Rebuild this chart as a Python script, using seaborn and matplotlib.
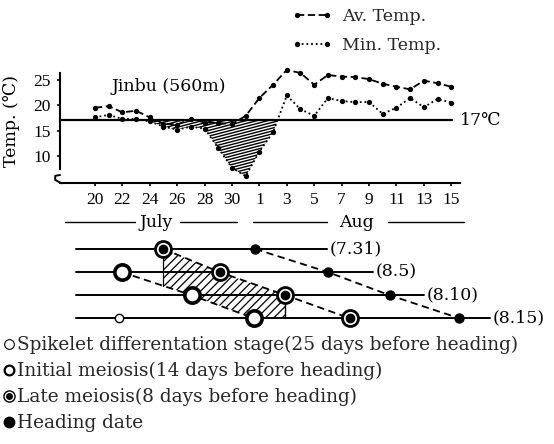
import numpy as np
import pandas as pd
import matplotlib
matplotlib.use("Agg")
import matplotlib.pyplot as plt
import matplotlib.transforms as mtransforms
from matplotlib.lines import Line2D
from matplotlib.collections import LineCollection
import seaborn as sns

# ---------------- data ----------------
# day index 0 = July 20 ... 26 = Aug 15
days = list(range(27))
tick_days = list(range(0, 27, 2))
tick_labels = ["20", "22", "24", "26", "28", "30", "1", "3", "5", "7", "9", "11", "13", "15"]
av_temp = [19.5, 19.8, 18.6, 18.9, 17.6, 16.4, 16.2, 17.3, 16.6, 16.5, 16.3, 17.9,
           21.4, 24.0, 26.9, 26.3, 24.0, 25.9, 25.6, 25.5, 25.1, 24.2, 23.6, 23.1,
           24.8, 24.3, 23.6]
min_temp = [17.6, 18.1, 17.3, 17.3, 16.8, 15.8, 15.2, 15.8, 15.4, 11.6, 7.7, 6.1,
            10.9, 14.7, 21.9, 19.2, 17.9, 21.4, 20.8, 20.6, 20.6, 18.3, 19.5, 21.4,
            19.6, 21.2, 20.5]
threshold = 17
y_ticks = [10, 15, 20, 25]
months = ["July", "Aug"]
month_center = [4.5, 19.1]
month_rules = [[(-2.2, 2.9), (6.2, 10.4)], [(11.5, 16.9), (21.4, 26.9)]]

# development stages (rows = planting lines)
rows = [1, 2, 3, 4]
heading_labels = ["(7.31)", "(8.5)", "(8.10)", "(8.15)"]
heading_day = [11.7, 17.0, 21.5, 26.6]
late_meiosis_day = [5.0, 9.1, 13.9, 18.6]
initial_rows = [2, 3, 4]
initial_meiosis_day = [1.95, 7.05, 11.6]
spikelet_rows = [4]
spikelet_day = [1.75]
row_start = -1.35
row_end = [16.9, 20.3, 24.0, 28.8]

legend_labels = ["Spikelet differentation stage(25 days before heading)",
                 "Initial meiosis(14 days before heading)",
                 "Late meiosis(8 days before heading)",
                 "Heading date"]

# ---------------- style ----------------
sns.set_theme(style="white")
plt.rcParams["font.family"] = ["DejaVu Serif", "Liberation Serif", "Noto Sans CJK JP"]
plt.rcParams["axes.unicode_minus"] = False
plt.rcParams["hatch.linewidth"] = 0.9

TICKFONT = ["Liberation Serif", "DejaVu Serif"]

W, H = 554, 444
fig = plt.figure(figsize=(W / 100, H / 100), dpi=100)
fig.patch.set_facecolor("white")


def px_axes(l, t, r, b):
    return fig.add_axes([l / W, 1 - b / H, (r - l) / W, (b - t) / H])


XLIM = (-2.55, 26.64)

# ---------------- top temperature panel ----------------
ax = px_axes(60, 73, 460, 183.3)
ax.set_facecolor("none")
df = pd.DataFrame({"day": days, "av": av_temp, "min": min_temp})

dash_av = (0, (4, 2))
dot_min = (0, (1, 1.6))
sns.lineplot(data=df, x="day", y="av", ax=ax, color="black", lw=1.3,
             linestyle=dash_av, marker="o", markersize=3.8, markeredgewidth=0,
             clip_on=False, legend=False)
sns.lineplot(data=df, x="day", y="min", ax=ax, color="black", lw=1.3,
             linestyle=dot_min, marker="o", markersize=3.8, markeredgewidth=0,
             clip_on=False, legend=False)

ax.axhline(threshold, xmin=0, xmax=0.98, color="black", lw=1.6)

mn = np.array(min_temp)
poly = ax.fill_between(df["day"], mn, threshold, where=mn < threshold,
                       interpolate=True, facecolor="none", lw=0)
segs = [[(0, c), (1, c + 0.95)] for c in np.arange(-1.2, 1.0, 0.026)]
lc = LineCollection(segs, colors="black", linewidths=1.0, transform=ax.transAxes)
ax.add_collection(lc)
paths = poly.get_paths()
if paths:
    lc.set_clip_path(paths[0], poly.get_transform())

ax.set_xlim(*XLIM)
ax.set_ylim(4.69, 26.3)
ax.set_xticks(tick_days)
ax.set_xticklabels(tick_labels, fontfamily=TICKFONT)
ax.set_yticks(y_ticks)
ax.set_yticklabels([str(v) for v in y_ticks], fontfamily=TICKFONT)
ax.tick_params(axis="x", direction="out", length=2.5, width=1.2, pad=4, labelsize=12.5,
               colors="black", bottom=True)
ax.tick_params(axis="y", direction="out", length=2.5, width=1.2, pad=4, labelsize=12.5,
               colors="black", left=True)
for s in ["top", "right"]:
    ax.spines[s].set_visible(False)
for s in ["left", "bottom"]:
    ax.spines[s].set_color("black")
    ax.spines[s].set_linewidth(1.5)
ax.spines["left"].set_bounds(7.4, 26.3)
ax.plot([0, -0.012, -0.012, 0.004], [0.075, 0.068, 0.03, 0.0],
        transform=ax.transAxes, color="black", lw=1.4, clip_on=False)
ax.set_xlabel("")
ax.set_ylabel("Temp. (℃)", fontsize=12.5, color="black")
ax.yaxis.set_label_coords(-0.1, 0.565)

ax.text(5.4, 23.6, "Jinbu (560m)", fontsize=12.5, ha="center", va="center", color="black")
ax.text(26.6, threshold, "17℃", fontsize=12.5, ha="left", va="center", color="black")

# month row under the axis
bt = mtransforms.blended_transform_factory(ax.transData, fig.transFigure)
month_y = 1 - 222 / H
for name, cx, rules in zip(months, month_center, month_rules):
    ax.text(cx, month_y, name, transform=bt, fontsize=12.5, ha="center", va="center",
            color="black")
    for a, b in rules:
        ax.plot([a, b], [month_y, month_y], transform=bt, color="black", lw=1.0,
                clip_on=False)

# legend for the temperature lines
h_av = Line2D([], [], color="black", lw=1.3, linestyle=dash_av, marker="o",
              markersize=3.8, markeredgewidth=0)
h_min = Line2D([], [], color="black", lw=1.3, linestyle=dot_min, marker="o",
               markersize=3.8, markeredgewidth=0)
fig.legend([h_av, h_min], ["Av. Temp.", "Min. Temp."], loc="upper left",
           bbox_to_anchor=(292 / W, 1 - 8 / H), frameon=False, numpoints=2,
           fontsize=12.5, handlelength=2.3, handletextpad=0.6, labelspacing=0.7,
           borderpad=0, borderaxespad=0)

# ---------------- bottom development panel ----------------
ax2 = px_axes(60, 237.45, 460, 329.85)
ax2.set_xlim(*XLIM)
ax2.set_ylim(4.5, 0.5)
ax2.axis("off")

for r, end, lab in zip(rows, row_end, heading_labels):
    ax2.plot([row_start, end], [r, r], color="black", lw=1.4, clip_on=False, zorder=2)
    ax2.annotate(lab, (end, r), xytext=(2, 0), textcoords="offset points",
                 ha="left", va="center", fontsize=12.5, color="black",
                 annotation_clip=False)

# hatched meiosis / cold window
xs = np.linspace(late_meiosis_day[0], late_meiosis_day[2], 200)
upper = np.interp(xs, late_meiosis_day, rows)
lower = np.minimum(np.interp(xs, initial_meiosis_day, initial_rows), 4)
ax2.fill_between(xs, upper, lower, facecolor="none", edgecolor="black",
                 hatch="////", lw=0, zorder=1)
ax2.plot([xs[0], xs[0]], [upper[0], lower[0]], color="black", lw=0.9, zorder=1)
ax2.plot([xs[-1], xs[-1]], [upper[-1], lower[-1]], color="black", lw=1.0, zorder=1)

# dashed connectors
ax2.plot(heading_day, rows, color="black", lw=1.3, linestyle=(0, (4, 2.5)), zorder=2,
         clip_on=False)
ax2.plot(late_meiosis_day, rows, color="black", lw=1.3, linestyle=(0, (4, 2.5)), zorder=2)
ax2.plot(initial_meiosis_day, initial_rows, color="black", lw=1.3,
         linestyle=(0, (4, 2.5)), zorder=2)

# stage markers
ax2.plot(spikelet_day, spikelet_rows, "o", ms=6, mfc="white", mec="black", mew=1.0,
         zorder=5)
ax2.plot(initial_meiosis_day, initial_rows, "o", ms=11, mfc="white", mec="black",
         mew=2.6, zorder=5)
ax2.plot(late_meiosis_day, rows, "o", ms=11.5, mfc="white", mec="black", mew=2.0, zorder=5)
ax2.plot(late_meiosis_day, rows, "o", ms=7, mfc="black", mec="black", mew=0, zorder=6)
ax2.plot(heading_day, rows, "o", ms=7.5, mfc="black", mec="black", mew=0, zorder=6,
         clip_on=False)

# stage legend
l1 = Line2D([], [], linestyle="none", marker="o", ms=7, mfc="white", mec="black", mew=0.8)
l2 = Line2D([], [], linestyle="none", marker="o", ms=7, mfc="white", mec="black", mew=1.6)
l3a = Line2D([], [], linestyle="none", marker="o", ms=8, mfc="white", mec="black", mew=1.0)
l3b = Line2D([], [], linestyle="none", marker="o", ms=5, mfc="black", mec="black", mew=0)
l4 = Line2D([], [], linestyle="none", marker="o", ms=8.5, mfc="black", mec="black", mew=0)
fig.legend([l1, l2, (l3a, l3b), l4], legend_labels, loc="upper left",
           bbox_to_anchor=(3 / W, 1 - 336 / H), frameon=False, fontsize=13.3,
           handlelength=0.6, handletextpad=0.15, labelspacing=0.42,
           borderpad=0, borderaxespad=0)

fig.savefig("out.png", dpi=100, facecolor="white")
